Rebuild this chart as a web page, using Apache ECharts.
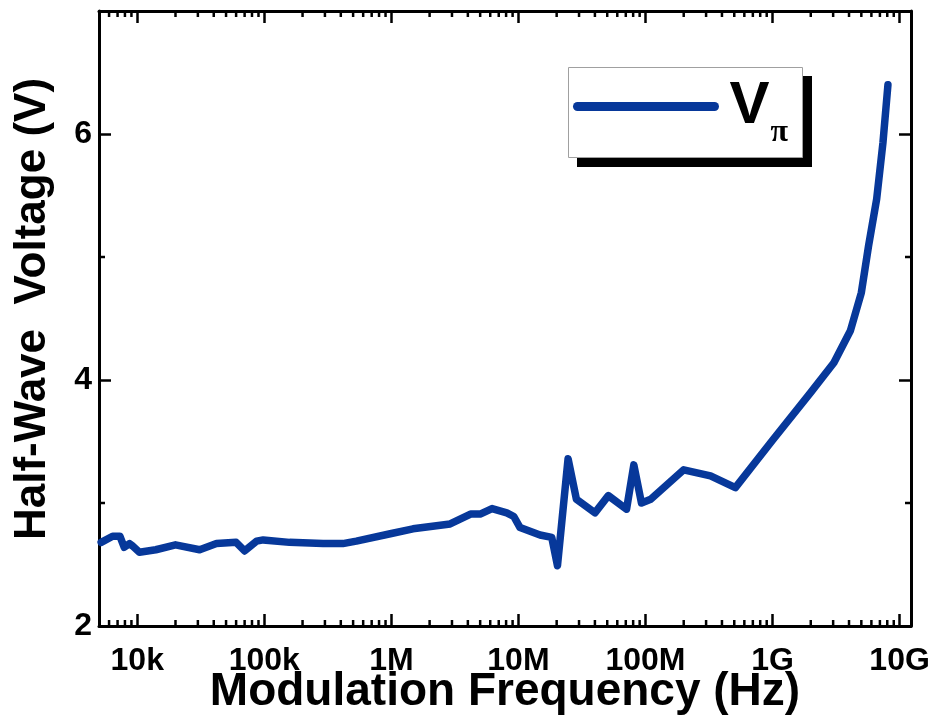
<!DOCTYPE html>
<html>
<head>
<meta charset="utf-8">
<script src="https://cdn.jsdelivr.net/npm/echarts@6/dist/echarts.min.js"></script>
<style>
  html, body { margin: 0; padding: 0; background: #fff; }
  #chart { width: 939px; height: 715px; }
</style>
</head>
<body>
<div id="chart"></div>
<script>
// Half-wave voltage versus modulation frequency
const freqHz = [
  5.2e3, 6.4e3, 7.3e3, 7.9e3, 8.7e3, 9.2e3, 1.04e4, 1.4e4, 2.0e4, 3.1e4,
  4.2e4, 6.0e4, 7.0e4, 8.7e4, 9.8e4, 1.58e5, 2.9e5, 4.15e5, 5.3e5, 9.8e5,
  1.48e6, 2.9e6, 4.2e6, 5.0e6, 6.2e6, 8.1e6, 9.2e6, 1.03e7, 1.48e7, 1.83e7,
  2.03e7, 2.46e7, 2.86e7, 4.0e7, 5.1e7, 7.1e7, 8.1e7, 9.3e7, 1.1e8, 2.0e8,
  3.25e8, 5.1e8, 1.0e9, 2.0e9, 3.04e9, 4.1e9, 5.0e9, 5.7e9, 6.6e9, 7.4e9,
  8.1e9
];
const halfWaveV = [
  2.68, 2.73, 2.73, 2.64, 2.67, 2.65, 2.60, 2.62, 2.66, 2.62,
  2.67, 2.68, 2.61, 2.69, 2.70, 2.68, 2.67, 2.67, 2.69, 2.75,
  2.79, 2.83, 2.91, 2.91, 2.955, 2.92, 2.89, 2.80, 2.74, 2.72,
  2.49, 3.36, 3.03, 2.92, 3.06, 2.95, 3.31, 3.00, 3.03, 3.27,
  3.22, 3.125, 3.51, 3.90, 4.14, 4.40, 4.71, 5.09, 5.47, 5.93,
  6.40
];
const xTickValues = [1e4, 1e5, 1e6, 1e7, 1e8, 1e9, 1e10];
const xTickLabels = ['10k', '100k', '1M', '10M', '100M', '1G', '10G'];
const yMinorTicks = [3, 5];
const seriesName = 'V\u03c0';

const X_MIN = 5000, X_MAX = 1.23e10;
const Y_MIN = 2, Y_MAX = 7;
const LINE_COLOR = '#07389a';
const FONT = '"Liberation Sans", Arial, sans-serif';

// minor tick positions on the log axis: 2..9 times each decade
const xMinorTicks = [];
for (let d = 1e3; d <= 1e10; d *= 10) {
  for (let m = 2; m <= 9; m++) {
    const v = m * d;
    if (v > X_MIN && v < X_MAX) xMinorTicks.push(v);
  }
}
const minorTickData = xMinorTicks.map(v => [v, Y_MIN, 0])
  .concat(yMinorTicks.map(v => [X_MIN, v, 1]));

const curve = freqHz.map((f, i) => [f, halfWaveV[i]]);

function xLabel(value) {
  for (let i = 0; i < xTickValues.length; i++) {
    if (Math.abs(Math.log10(value) - Math.log10(xTickValues[i])) < 1e-6) return xTickLabels[i];
  }
  return '';
}

const axisLine = { show: true, onZero: false, lineStyle: { color: '#000', width: 3 } };
const majorTick = { show: true, inside: true, length: 12, lineStyle: { color: '#000', width: 2.5 } };

const chart = echarts.init(document.getElementById('chart'), null, { renderer: 'canvas' });
chart.setOption({
  animation: false,
  backgroundColor: '#fff',
  grid: { left: 99, right: 28, top: 11, bottom: 89, containLabel: false, outerBoundsMode: 'none' },
  xAxis: [
    {
      type: 'log', logBase: 10, min: X_MIN, max: X_MAX, position: 'bottom',
      axisLine: axisLine, axisTick: majorTick, splitLine: { show: false },
      axisLabel: {
        formatter: xLabel, showMinLabel: false, showMaxLabel: false,
        color: '#000', fontFamily: FONT, fontWeight: 'bold', fontSize: 32, margin: 19
      },
      name: 'Modulation Frequency (Hz)', nameLocation: 'middle', nameGap: 43,
      nameMoveOverlap: false,
      nameTextStyle: { color: '#000', fontFamily: FONT, fontWeight: 'bold', fontSize: 46 }
    },
    {
      type: 'log', logBase: 10, min: X_MIN, max: X_MAX, position: 'top',
      axisLine: axisLine, axisTick: majorTick, splitLine: { show: false },
      axisLabel: { show: false }
    }
  ],
  yAxis: [
    {
      type: 'value', min: Y_MIN, max: Y_MAX, interval: 2, position: 'left',
      axisLine: axisLine, axisTick: majorTick, splitLine: { show: false },
      axisLabel: {
        showMaxLabel: false, color: '#000', fontFamily: FONT, fontWeight: 'bold',
        fontSize: 32, margin: 7
      },
      name: 'Half-Wave  Voltage (V)', nameLocation: 'middle', nameGap: 44,
      nameMoveOverlap: false,
      nameTextStyle: {
        color: '#000', fontFamily: FONT, fontWeight: 'bold', fontSize: 44,
        padding: [0, 0, 0, 19]
      }
    },
    {
      type: 'value', min: Y_MIN, max: Y_MAX, interval: 2, position: 'right',
      axisLine: axisLine, axisTick: majorTick, splitLine: { show: false },
      axisLabel: { show: false }
    }
  ],
  legend: {
    data: [seriesName],
    left: 573, top: 64.5, padding: 0,
    itemWidth: 137, itemHeight: 4,
    selectedMode: false,
    itemStyle: { opacity: 0 },
    lineStyle: { width: 9, cap: 'round' },
    formatter: () => '{v|V}{p|\u03c0}',
    textStyle: {
      rich: {
        v: { fontFamily: FONT, fontWeight: 'bold', fontSize: 60, lineHeight: 60, color: '#000', padding: [0, 0, 0, 10] },
        p: { fontFamily: '"Liberation Serif", "DejaVu Serif", serif', fontWeight: 'bold', fontSize: 32, lineHeight: 32, color: '#000', padding: [52, 0, 0, 1] }
      }
    }
  },
  graphic: [
    { type: 'rect', z: 3, shape: { x: 577, y: 76, width: 235, height: 91 }, style: { fill: '#000' } },
    { type: 'rect', z: 3, shape: { x: 568.5, y: 67.5, width: 234, height: 90 }, style: { fill: '#fff', stroke: '#a0a0a0', lineWidth: 1 } }
  ],
  series: [
    {
      name: seriesName, type: 'line', data: curve, symbol: 'none', smooth: false,
      lineStyle: { color: LINE_COLOR, width: 7.5, cap: 'round', join: 'round' },
      itemStyle: { color: LINE_COLOR }, z: 2
    },
    {
      // minor ticks on all four sides of the frame
      type: 'custom', name: 'minorTicks', data: minorTickData, silent: true, clip: false,
      encode: { x: 0, y: 1 }, z: 5,
      renderItem: function (params, api) {
        const r = params.coordSys;
        const kind = api.value(2);
        const len = 6;
        const style = { stroke: '#000', lineWidth: 2.5 };
        if (kind === 0) {
          const x = api.coord([api.value(0), Y_MIN])[0];
          return { type: 'group', children: [
            { type: 'line', shape: { x1: x, y1: r.y + r.height, x2: x, y2: r.y + r.height - len }, style: style },
            { type: 'line', shape: { x1: x, y1: r.y, x2: x, y2: r.y + len }, style: style }
          ] };
        }
        const y = api.coord([X_MIN, api.value(1)])[1];
        return { type: 'group', children: [
          { type: 'line', shape: { x1: r.x, y1: y, x2: r.x + len, y2: y }, style: style },
          { type: 'line', shape: { x1: r.x + r.width, y1: y, x2: r.x + r.width - len, y2: y }, style: style }
        ] };
      }
    }
  ]
});
</script>
</body>
</html>
